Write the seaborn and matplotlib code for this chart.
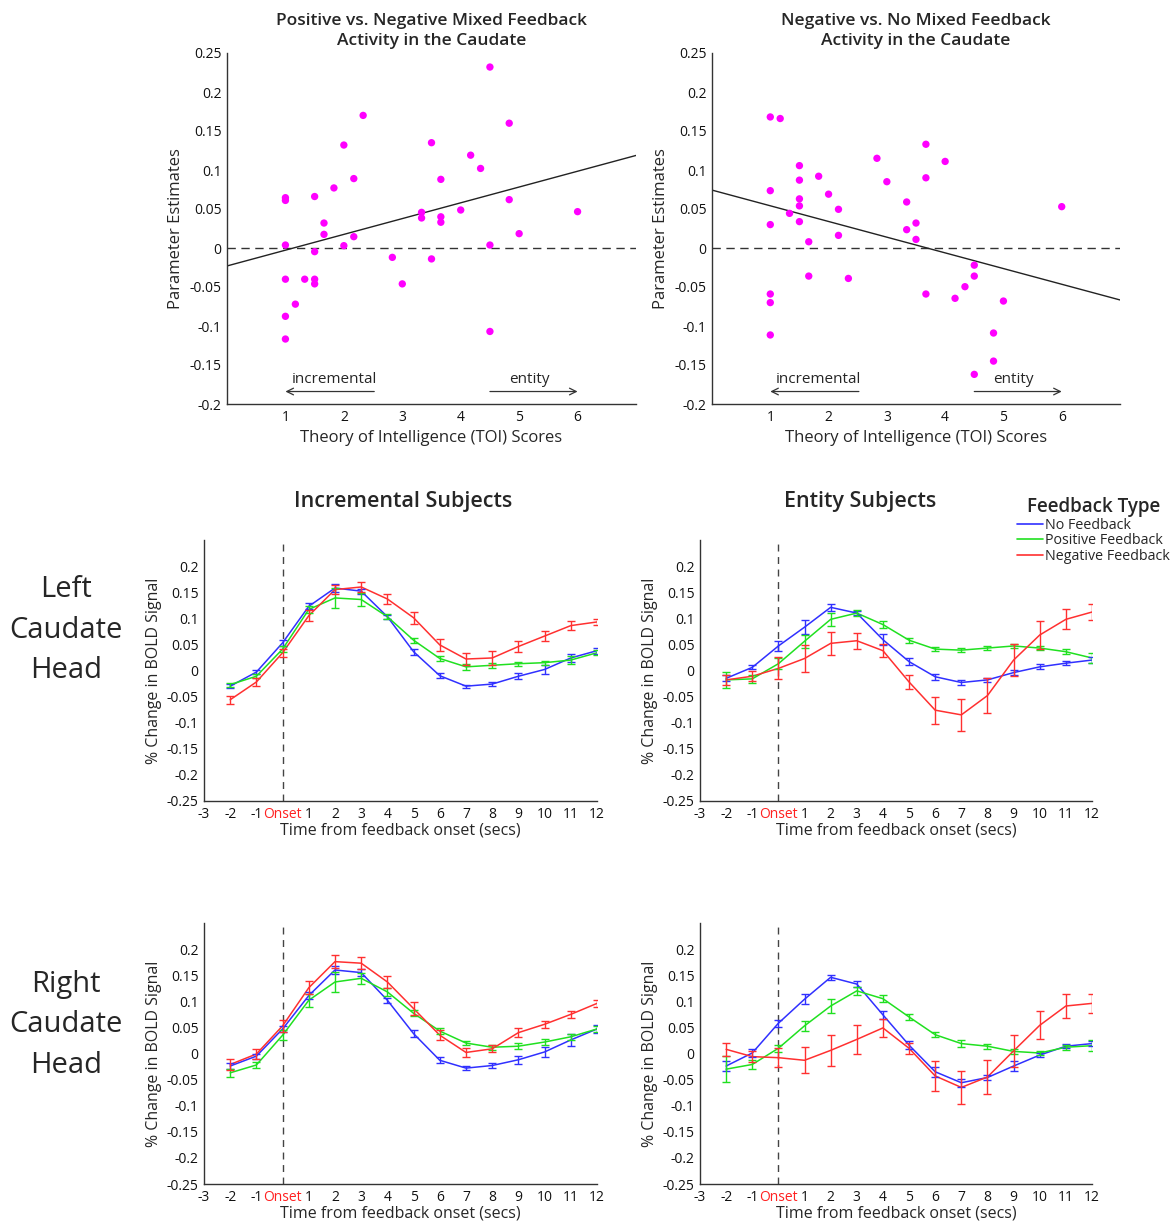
import numpy as np
import pandas as pd
import matplotlib
matplotlib.use("Agg")
import matplotlib.pyplot as plt
from matplotlib.lines import Line2D
from matplotlib.ticker import FuncFormatter
import seaborn as sns

# ---------------- data: scatter panels ----------------
toi_a = [4.50, 2.33, 4.83, 2.00, 3.50, 4.17, 4.34, 2.17, 3.66, 1.83, 1.00, 1.00, 1.50,
         4.83, 3.33, 3.33, 4.00, 3.66, 3.66, 6.00, 1.66, 1.66, 2.17, 5.00, 1.00, 2.00,
         4.50, 1.50, 2.83, 3.50, 1.00, 1.33, 1.50, 1.50, 3.00, 1.17, 1.00, 1.00, 4.50]
est_a = [0.232, 0.170, 0.160, 0.132, 0.135, 0.119, 0.102, 0.089, 0.088, 0.077, 0.0645,
         0.061, 0.066, 0.062, 0.0457, 0.0385, 0.0487, 0.040, 0.033, 0.0466, 0.032, 0.0175,
         0.0145, 0.0184, 0.0038, 0.003, 0.0038, -0.0047, -0.012, -0.014, -0.040, -0.040,
         -0.040, -0.046, -0.046, -0.072, -0.0876, -0.1167, -0.107]

toi_b = [1.00, 1.17, 3.67, 2.83, 4.00, 1.50, 1.50, 1.83, 3.67, 3.00, 1.00, 2.00, 1.50,
         1.50, 3.34, 2.17, 1.33, 1.50, 3.50, 6.00, 1.00, 3.34, 2.17, 3.50, 1.66, 1.66,
         2.34, 4.50, 4.50, 4.34, 3.67, 4.17, 5.00, 1.00, 1.00, 1.00, 4.83, 4.83, 4.50]
est_b = [0.168, 0.166, 0.133, 0.115, 0.111, 0.1056, 0.087, 0.092, 0.090, 0.085, 0.0735,
         0.069, 0.063, 0.054, 0.059, 0.0496, 0.0444, 0.0338, 0.032, 0.053, 0.030, 0.0235,
         0.0162, 0.011, 0.008, -0.036, -0.039, -0.022, -0.036, -0.0496, -0.059, -0.0645,
         -0.068, -0.059, -0.070, -0.1115, -0.109, -0.145, -0.162]

scatter_titles = ["Positive vs. Negative Mixed Feedback\nActivity in the Caudate",
                  "Negative vs. No Mixed Feedback\nActivity in the Caudate"]

# ---------------- data: time courses ----------------
time = [-2, -1, 0, 1, 2, 3, 4, 5, 6, 7, 8, 9, 10, 11, 12]
feedback_types = ["No Feedback", "Positive Feedback", "Negative Feedback"]

# Left caudate, incremental
li_no = [-0.030, -0.003, 0.053, 0.123, 0.158, 0.152, 0.103, 0.036, -0.010, -0.030, -0.026, -0.011, 0.002, 0.024, 0.038]
li_no_err = [0.004, 0.004, 0.006, 0.006, 0.007, 0.005, 0.004, 0.006, 0.005, 0.003, 0.004, 0.006, 0.008, 0.008, 0.006]
li_pos = [-0.027, -0.011, 0.041, 0.117, 0.139, 0.136, 0.103, 0.058, 0.023, 0.007, 0.010, 0.013, 0.015, 0.020, 0.034]
li_pos_err = [0.004, 0.004, 0.005, 0.006, 0.019, 0.013, 0.005, 0.005, 0.004, 0.006, 0.005, 0.004, 0.004, 0.007, 0.005]
li_neg = [-0.056, -0.022, 0.034, 0.105, 0.155, 0.160, 0.137, 0.101, 0.049, 0.022, 0.024, 0.046, 0.066, 0.086, 0.093]
li_neg_err = [0.008, 0.008, 0.008, 0.010, 0.009, 0.010, 0.010, 0.012, 0.012, 0.012, 0.013, 0.010, 0.009, 0.008, 0.006]

# Left caudate, entity
le_no = [-0.015, 0.006, 0.047, 0.083, 0.121, 0.110, 0.059, 0.017, -0.012, -0.023, -0.018, -0.004, 0.007, 0.014, 0.020]
le_no_err = [0.006, 0.004, 0.009, 0.013, 0.007, 0.004, 0.010, 0.006, 0.006, 0.004, 0.004, 0.005, 0.005, 0.004, 0.005]
le_pos = [-0.018, -0.016, 0.013, 0.056, 0.098, 0.110, 0.088, 0.058, 0.041, 0.039, 0.043, 0.047, 0.043, 0.036, 0.024]
le_pos_err = [0.016, 0.008, 0.010, 0.012, 0.013, 0.005, 0.006, 0.005, 0.004, 0.004, 0.003, 0.004, 0.004, 0.005, 0.010]
le_neg = [-0.018, -0.011, 0.004, 0.023, 0.052, 0.057, 0.038, -0.022, -0.076, -0.085, -0.048, 0.020, 0.068, 0.098, 0.112]
le_neg_err = [0.010, 0.010, 0.021, 0.025, 0.022, 0.015, 0.013, 0.013, 0.026, 0.031, 0.033, 0.031, 0.027, 0.019, 0.015]

# Right caudate, incremental
ri_no = [-0.024, -0.005, 0.047, 0.111, 0.160, 0.155, 0.102, 0.038, -0.013, -0.028, -0.023, -0.012, 0.003, 0.026, 0.047]
ri_no_err = [0.005, 0.005, 0.005, 0.006, 0.007, 0.006, 0.005, 0.007, 0.006, 0.004, 0.004, 0.008, 0.010, 0.012, 0.007]
ri_pos = [-0.037, -0.022, 0.035, 0.102, 0.137, 0.144, 0.118, 0.077, 0.043, 0.020, 0.012, 0.014, 0.022, 0.032, 0.047]
ri_pos_err = [0.008, 0.005, 0.010, 0.012, 0.020, 0.010, 0.008, 0.006, 0.005, 0.004, 0.005, 0.006, 0.006, 0.006, 0.006]
ri_neg = [-0.021, -0.001, 0.053, 0.126, 0.176, 0.173, 0.137, 0.086, 0.035, 0.002, 0.009, 0.040, 0.056, 0.075, 0.096]
ri_neg_err = [0.010, 0.010, 0.012, 0.012, 0.012, 0.012, 0.012, 0.012, 0.010, 0.008, 0.007, 0.008, 0.007, 0.007, 0.007]

# Right caudate, entity
re_no = [-0.024, 0.001, 0.058, 0.104, 0.146, 0.133, 0.074, 0.016, -0.035, -0.056, -0.046, -0.024, -0.003, 0.014, 0.019]
re_no_err = [0.010, 0.008, 0.007, 0.010, 0.005, 0.005, 0.008, 0.008, 0.010, 0.008, 0.005, 0.010, 0.004, 0.004, 0.005]
re_pos = [-0.030, -0.021, 0.010, 0.053, 0.091, 0.120, 0.105, 0.070, 0.036, 0.019, 0.014, 0.004, 0.001, 0.012, 0.015]
re_pos_err = [0.025, 0.008, 0.007, 0.009, 0.013, 0.008, 0.007, 0.005, 0.005, 0.006, 0.005, 0.005, 0.004, 0.005, 0.010]
re_neg = [0.008, -0.006, -0.008, -0.013, 0.006, 0.027, 0.049, 0.010, -0.043, -0.065, -0.045, 0.005, 0.054, 0.091, 0.096]
re_neg_err = [0.012, 0.010, 0.018, 0.025, 0.030, 0.028, 0.018, 0.010, 0.028, 0.032, 0.032, 0.030, 0.027, 0.023, 0.018]

x_tick_labels = ["-3", "-2", "-1", "Onset", "1", "2", "3", "4", "5", "6", "7", "8", "9", "10", "11", "12"]

# ---------------- style ----------------
sns.set_theme(style="white")
plt.rcParams["font.family"] = ["Open Sans", "DejaVu Sans"]
plt.rcParams["xtick.direction"] = "in"
plt.rcParams["ytick.direction"] = "in"
plt.rcParams["axes.edgecolor"] = "#333333"
plt.rcParams["axes.linewidth"] = 1.0

colors = {"No Feedback": "#3030ff", "Positive Feedback": "#20e020", "Negative Feedback": "#ff3030"}

fig = plt.figure(figsize=(11.73, 12.23), dpi=100)
W, H = 1173.0, 1223.0


def ax_at(left, top, right, bottom):
    return fig.add_axes([left / W, 1 - bottom / H, (right - left) / W, (bottom - top) / H])


def _fmt(v, p):
    v = round(v, 2) + 0.0
    if abs(v) < 1e-9:
        return "0"
    return f"{v:g}"


fmt = FuncFormatter(_fmt)

# ---------------- scatter panels ----------------
scatter_sets = [(toi_a, est_a), (toi_b, est_b)]
scatter_boxes = [(227, 53, 636, 404), (712, 53, 1120, 404)]
for (xs, ys), box, title in zip(scatter_sets, scatter_boxes, scatter_titles):
    ax = ax_at(*box)
    df = pd.DataFrame({"toi": xs, "est": ys})
    ax.set_xlim(0, 7)
    ax.set_ylim(-0.2, 0.25)
    ax.axhline(0, color="#333333", lw=1.0, ls=(0, (6, 4)))
    sns.regplot(data=df, x="toi", y="est", ax=ax, scatter=False, ci=None, truncate=False,
                line_kws=dict(color="#222222", lw=1.0))
    sns.scatterplot(data=df, x="toi", y="est", ax=ax, color="#ff00ff", s=28,
                    edgecolor="none", zorder=3)
    ax.set_xlim(0, 7)
    ax.set_ylim(-0.2, 0.25)
    ax.set_xticks([1, 2, 3, 4, 5, 6])
    ax.set_yticks(np.round(np.arange(-0.2, 0.2501, 0.05), 2))
    ax.yaxis.set_major_formatter(fmt)
    ax.tick_params(labelsize=10, length=4, width=0.8, pad=4, colors="#111111")
    for s in ["top", "right"]:
        ax.spines[s].set_visible(False)
    ax.set_xlabel("Theory of Intelligence (TOI) Scores", fontsize=12, labelpad=4)
    ax.set_ylabel("Parameter Estimates", fontsize=12, labelpad=4)
    ax.set_title(title, fontsize=12.5, fontweight="semibold", pad=6, linespacing=1.3)
    # incremental / entity arrows
    ax.annotate("", xy=(1.0, -0.184), xytext=(2.52, -0.184),
                arrowprops=dict(arrowstyle="->", color="#333333", lw=0.9, shrinkA=0, shrinkB=0))
    ax.annotate("", xy=(6.0, -0.184), xytext=(4.5, -0.184),
                arrowprops=dict(arrowstyle="->", color="#333333", lw=0.9, shrinkA=0, shrinkB=0))
    ax.text(1.1, -0.169, "incremental", fontsize=11, ha="left", va="center")
    ax.text(4.82, -0.169, "entity", fontsize=11, ha="left", va="center")

# ---------------- time course panels ----------------
panels = [
    ((204, 540, 597, 801), (li_no, li_pos, li_neg), (li_no_err, li_pos_err, li_neg_err)),
    ((700, 540, 1092, 801), (le_no, le_pos, le_neg), (le_no_err, le_pos_err, le_neg_err)),
    ((204, 923, 597, 1184), (ri_no, ri_pos, ri_neg), (ri_no_err, ri_pos_err, ri_neg_err)),
    ((700, 923, 1092, 1184), (re_no, re_pos, re_neg), (re_no_err, re_pos_err, re_neg_err)),
]

for box, vals, errs in panels:
    ax = ax_at(*box)
    rows = []
    for name, v in zip(feedback_types, vals):
        for t, y in zip(time, v):
            rows.append({"time": t, "signal": y, "type": name})
    df = pd.DataFrame(rows)
    ax.axvline(0, color="#444444", lw=1.0, ls=(0, (5, 4)), zorder=1)
    sns.lineplot(data=df, x="time", y="signal", hue="type", palette=colors, ax=ax,
                 legend=False, errorbar=None, lw=1.1, zorder=3)
    for name, v, e in zip(feedback_types, vals, errs):
        ax.errorbar(time, v, yerr=e, fmt="none", ecolor=colors[name], elinewidth=1.0,
                    capsize=3.2, capthick=1.0, zorder=3)
    ax.set_xlim(-3, 12)
    ax.set_ylim(-0.25, 0.25)
    ax.set_xticks(np.arange(-3, 13))
    ax.set_xticklabels(x_tick_labels)
    ax.set_yticks(np.round(np.arange(-0.25, 0.2001, 0.05), 2))
    ax.yaxis.set_major_formatter(fmt)
    ax.tick_params(labelsize=10, length=4, width=0.8, pad=4, colors="#111111")
    ax.get_xticklabels()[3].set_color("#ff2020")
    for s in ["top", "right"]:
        ax.spines[s].set_visible(False)
    ax.set_xlabel("Time from feedback onset (secs)", fontsize=11.5, labelpad=1)
    ax.set_ylabel("% Change in BOLD Signal", fontsize=11.5, labelpad=3)

# column titles and row labels
fig.text(403 / W, 1 - 502 / H, "Incremental Subjects", ha="center", va="center",
         fontsize=15.5, fontweight="semibold")
fig.text(860 / W, 1 - 502 / H, "Entity Subjects", ha="center", va="center",
         fontsize=15.5, fontweight="semibold")
fig.text(66 / W, 1 - 630 / H, "Left\nCaudate\nHead", ha="center", va="center",
         fontsize=21, linespacing=1.52)
fig.text(66 / W, 1 - 1025 / H, "Right\nCaudate\nHead", ha="center", va="center",
         fontsize=21, linespacing=1.52)

# legend
handles = [Line2D([0], [0], color=colors[n], lw=1.2) for n in feedback_types]
leg = fig.legend(handles, feedback_types, title="Feedback Type", loc="upper right",
                 bbox_to_anchor=(1170 / W, 1 - 497 / H), frameon=False, fontsize=10.3,
                 title_fontsize=13.5, handlelength=1.8, handletextpad=0.15,
                 labelspacing=0.05, borderpad=0.0, borderaxespad=0.0)
leg.get_title().set_fontweight("semibold")

fig.savefig("out.png", dpi=100)
